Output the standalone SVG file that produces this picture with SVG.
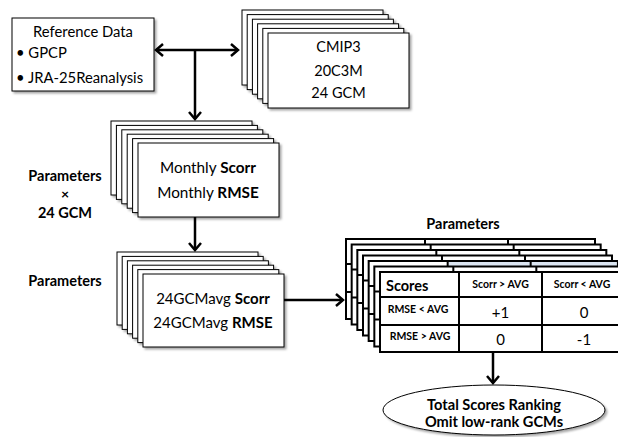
<svg xmlns="http://www.w3.org/2000/svg" xmlns:xlink="http://www.w3.org/1999/xlink" width="618" height="437" viewBox="0 0 618 437">
  <defs>
    <style>
      .card { fill: #ffffff; stroke: #000000; stroke-width: 1; }
      .tbl { fill: #ffffff; stroke: #000000; stroke-width: 2; }
      .tline { stroke: #000000; stroke-width: 2; fill: none; }
      .conn { stroke: #000000; stroke-width: 2.5; fill: none; }
      .t { font-family: Lato, "Liberation Sans", sans-serif; fill: #000000; }
      .c { text-anchor: middle; }
      .b { font-weight: bold; }
    </style>
    <filter id="shadow" x="-10%" y="-10%" width="130%" height="140%">
      <feDropShadow dx="2" dy="2" stdDeviation="1.2" flood-color="#000000" flood-opacity="0.35"/>
    </filter>
    <marker id="arrow" markerUnits="userSpaceOnUse" markerWidth="16" markerHeight="16" refX="11" refY="8" orient="auto-start-reverse">
      <path d="M4,2 L11,8 L4,14" fill="none" stroke="#000000" stroke-width="2.5" stroke-linejoin="miter"/>
    </marker>
  </defs>

  <!-- connectors -->
  <g id="connectors">
    <line class="conn" x1="156" y1="50" x2="238" y2="50" marker-start="url(#arrow)" marker-end="url(#arrow)"/>
    <line class="conn" x1="195" y1="50" x2="195" y2="119" marker-end="url(#arrow)"/>
    <line class="conn" x1="195" y1="217" x2="195" y2="250" marker-end="url(#arrow)"/>
    <line class="conn" x1="284" y1="300" x2="343" y2="300" marker-end="url(#arrow)"/>
    <line class="conn" x1="493" y1="343" x2="493" y2="383" marker-end="url(#arrow)"/>
  </g>

  <!-- reference data box -->
  <g id="reference-data">
    <rect class="card" x="12" y="18" width="142" height="73" filter="url(#shadow)"/>
    <text class="t c" x="83" y="37" font-size="14.8">Reference Data</text>
    <text class="t" x="16" y="58" font-size="14.8">• GPCP</text>
    <text class="t" x="16" y="83" font-size="14.8">• JRA-25Reanalysis</text>
  </g>

  <!-- CMIP3 model stack -->
  <g id="cmip3">
    <g filter="url(#shadow)">
      <rect class="card" x="242" y="10" width="141" height="75"/>
      <rect class="card" x="247.2" y="14.6" width="141" height="75"/>
      <rect class="card" x="252.4" y="19.2" width="141" height="75"/>
      <rect class="card" x="257.6" y="23.8" width="141" height="75"/>
      <rect class="card" x="262.8" y="28.4" width="141" height="75"/>
      <rect class="card" x="268" y="33" width="141" height="75"/>
    </g>
    <text class="t c" x="338.5" y="51.5" font-size="14.5">CMIP3</text>
    <text class="t c" x="338.5" y="76" font-size="14.5">20C3M</text>
    <text class="t c" x="338.5" y="98" font-size="14.5">24 GCM</text>
  </g>

  <!-- monthly statistics stack -->
  <g id="monthly">
    <g filter="url(#shadow)">
      <rect class="card" x="111" y="121" width="141" height="74"/>
      <rect class="card" x="116.4" y="125.4" width="141" height="74"/>
      <rect class="card" x="121.8" y="129.8" width="141" height="74"/>
      <rect class="card" x="127.2" y="134.2" width="141" height="74"/>
      <rect class="card" x="132.6" y="138.6" width="141" height="74"/>
      <rect class="card" x="138" y="143" width="141" height="74"/>
    </g>
    <text class="t c" x="208" y="173" font-size="15.3">Monthly <tspan class="b">Scorr</tspan></text>
    <text class="t c" x="208" y="198" font-size="15.3">Monthly <tspan class="b">RMSE</tspan></text>
  </g>

  <g id="label-params-gcm">
    <text class="t c b" x="65" y="181" font-size="14.5">Parameters</text>
    <text class="t c b" x="65" y="199" font-size="14">×</text>
    <text class="t c b" x="65" y="218" font-size="14.5">24 GCM</text>
  </g>

  <!-- ensemble average stack -->
  <g id="average">
    <g filter="url(#shadow)">
      <rect class="card" x="117" y="252" width="141" height="73"/>
      <rect class="card" x="122.2" y="256.4" width="141" height="73"/>
      <rect class="card" x="127.4" y="260.8" width="141" height="73"/>
      <rect class="card" x="132.6" y="265.2" width="141" height="73"/>
      <rect class="card" x="137.8" y="269.6" width="141" height="73"/>
      <rect class="card" x="143" y="274" width="141" height="73"/>
    </g>
    <text class="t c" x="213" y="304" font-size="15">24GCMavg <tspan class="b">Scorr</tspan></text>
    <text class="t c" x="213" y="328" font-size="15">24GCMavg <tspan class="b">RMSE</tspan></text>
  </g>

  <g id="label-params">
    <text class="t c b" x="65" y="286" font-size="14.5">Parameters</text>
  </g>

  <!-- score table stack -->
  <g id="score-tables">
    <text class="t c b" x="463" y="229" font-size="14.5">Parameters</text>
    <g transform="translate(346,239)">
      <rect class="tbl" width="249" height="80"/>
      <path class="tline" d="M79,0V80M162,0V80M0,25H249M0,53H249"/>
    </g>
    <g transform="translate(351.67,244.5)">
      <rect class="tbl" width="249" height="80"/>
      <path class="tline" d="M79,0V80M162,0V80M0,25H249M0,53H249"/>
    </g>
    <g transform="translate(357.33,250)">
      <rect class="tbl" width="249" height="80"/>
      <path class="tline" d="M79,0V80M162,0V80M0,25H249M0,53H249"/>
    </g>
    <g transform="translate(363,255.5)">
      <rect class="tbl" width="249" height="80"/>
      <path class="tline" d="M79,0V80M162,0V80M0,25H249M0,53H249"/>
    </g>
    <g transform="translate(368.67,261)">
      <rect class="tbl" width="249" height="80"/>
      <rect x="80" y="1" width="168" height="23" fill="#dbe5f1"/>
      <path class="tline" d="M79,0V80M162,0V80M0,25H249M0,53H249"/>
    </g>
    <g transform="translate(374.33,266.5)">
      <rect class="tbl" width="249" height="80"/>
      <path class="tline" d="M79,0V80M162,0V80M0,25H249M0,53H249"/>
    </g>
    <g transform="translate(380,272)">
      <rect class="tbl" width="249" height="80"/>
      <path class="tline" d="M79,0V80M162,0V80M0,25H249M0,53H249"/>
      <text class="t b" x="6" y="19" font-size="14.5">Scores</text>
      <text class="t c b" x="120.5" y="16" font-size="10.5">Scorr &gt; AVG</text>
      <text class="t c b" x="202" y="16" font-size="10.5">Scorr &lt; AVG</text>
      <text class="t c b" x="38" y="41" font-size="10.5">RMSE &lt; AVG</text>
      <text class="t c b" x="40" y="68" font-size="10.5">RMSE &gt; AVG</text>
      <text class="t c" x="120.5" y="46" font-size="15">+1</text>
      <text class="t c" x="204" y="46" font-size="15">0</text>
      <text class="t c" x="120.5" y="73" font-size="15">0</text>
      <text class="t c" x="204" y="73" font-size="15">-1</text>
    </g>
  </g>

  <!-- final ranking -->
  <g id="ranking">
    <ellipse cx="494" cy="410" rx="111" ry="25" fill="#ffffff" stroke="#000000" stroke-width="1" filter="url(#shadow)"/>
    <text class="t c b" x="494" y="410" font-size="14.6">Total Scores Ranking</text>
    <text class="t c b" x="494" y="427" font-size="14.6">Omit low-rank GCMs</text>
  </g>
</svg>
